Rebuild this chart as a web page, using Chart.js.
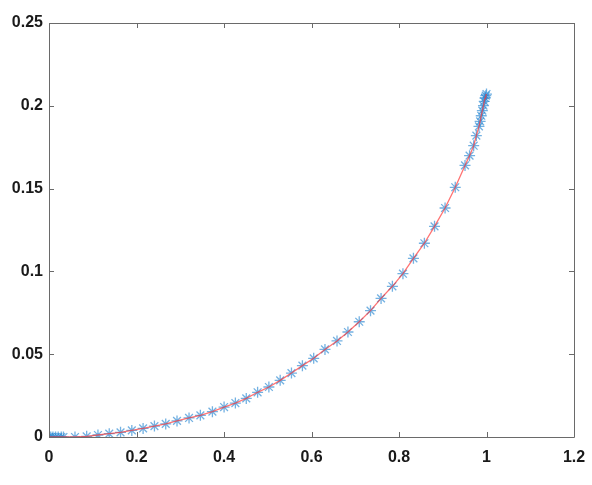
<!DOCTYPE html>
<html>
<head>
<meta charset="utf-8">
<script src="https://cdn.jsdelivr.net/npm/chart.js@4/dist/chart.umd.min.js"></script>
<style>
html,body{margin:0;padding:0;background:#fff;}
#wrap{width:592px;height:485px;position:relative;}
</style>
</head>
<body>
<div id="wrap"><canvas id="c" width="592" height="485"></canvas></div>
<script>
const xValues = [0, 0.004, 0.009, 0.015, 0.021, 0.028, 0.033,
  0.0594, 0.0861, 0.1119, 0.1377, 0.1635, 0.1893, 0.2151, 0.2410, 0.2668, 0.2926,
  0.3201, 0.3460, 0.3735, 0.4002, 0.4260, 0.4509, 0.4768, 0.5026, 0.5284, 0.5542,
  0.5792, 0.6050, 0.6308, 0.6583, 0.6833, 0.7091, 0.7349, 0.7590, 0.7849, 0.8090,
  0.8330, 0.8580, 0.8812, 0.9053, 0.9286, 0.9509, 0.9613, 0.9707, 0.9768, 0.9828,
  0.9854, 0.9880, 0.9905, 0.9931, 0.9948, 0.9966, 0.9983, 1.0000];
const yValues = [0, 0, 0, 0, 0, 0, 0,
  0.0000, 0.0004, 0.0012, 0.0020, 0.0028, 0.0040, 0.0052, 0.0066, 0.0079, 0.0097,
  0.0115, 0.0131, 0.0153, 0.0181, 0.0205, 0.0233, 0.0270, 0.0302, 0.0342, 0.0386,
  0.0431, 0.0475, 0.0529, 0.0580, 0.0634, 0.0696, 0.0763, 0.0837, 0.0910, 0.0986,
  0.1079, 0.1170, 0.1272, 0.1383, 0.1508, 0.1640, 0.1699, 0.1759, 0.1820, 0.1876,
  0.1906, 0.1940, 0.1971, 0.2001, 0.2027, 0.2047, 0.2061, 0.2071];
const xTicks = [0, 0.2, 0.4, 0.6, 0.8, 1, 1.2];
const yTicks = [0, 0.05, 0.1, 0.15, 0.2, 0.25];

const pts = xValues.map((x, i) => ({x: x, y: yValues[i]}));

const boxPlugin = {
  id: 'box',
  afterDraw(chart) {
    const ctx = chart.ctx, a = chart.chartArea;
    const xs = chart.scales.x, ys = chart.scales.y;
    ctx.save();
    ctx.strokeStyle = '#6a6a6a';
    ctx.lineWidth = 1;
    ctx.beginPath();
    ctx.rect(Math.round(a.left) + 0.5, Math.round(a.top) + 0.5, Math.round(a.right - a.left), Math.round(a.bottom - a.top));
    ctx.stroke();
    const L = 5;
    ctx.beginPath();
    xTicks.forEach(v => {
      const px = Math.round(xs.getPixelForValue(v)) + 0.5;
      ctx.moveTo(px, a.bottom); ctx.lineTo(px, a.bottom - L);
      ctx.moveTo(px, a.top); ctx.lineTo(px, a.top + L);
    });
    yTicks.forEach(v => {
      const py = Math.round(ys.getPixelForValue(v)) + 0.5;
      ctx.moveTo(a.left, py); ctx.lineTo(a.left + L, py);
      ctx.moveTo(a.right, py); ctx.lineTo(a.right - L, py);
    });
    ctx.stroke();
    ctx.restore();
  }
};

new Chart(document.getElementById('c'), {
  type: 'scatter',
  data: {
    datasets: [
      {
        data: pts,
        showLine: false,
        pointStyle: 'star',
        pointRadius: 5.5,
        pointHoverRadius: 5.5,
        borderColor: 'rgba(40,135,210,0.65)',
        backgroundColor: 'rgba(40,135,210,0.65)',
        pointBorderWidth: 1.3,
        order: 2
      },
      {
        data: pts,
        showLine: true,
        pointRadius: 0,
        borderColor: 'rgba(255,40,40,0.65)',
        borderWidth: 1.3,
        fill: false,
        order: 1
      }
    ]
  },
  options: {
    responsive: false,
    animation: false,
    events: [],
    layout: {padding: {left: 0, right: 18, top: 23, bottom: 0}},
    plugins: {legend: {display: false}, tooltip: {enabled: false}},
    scales: {
      x: {
        type: 'linear',
        min: 0, max: 1.2,
        afterBuildTicks(s) { s.ticks = xTicks.map(v => ({value: v})); },
        afterFit(s) { s.height = 48; s.paddingLeft = 0; s.paddingRight = 0; },
        grid: {display: false, drawTicks: false},
        border: {display: false},
        ticks: {
          color: '#1a1a1a',
          padding: 11,
          maxRotation: 0,
          font: {family: 'Liberation Sans, Arial, sans-serif', size: 16, weight: 'bold'},
          callback: v => String(+v.toFixed(2))
        }
      },
      y: {
        type: 'linear',
        min: 0, max: 0.25,
        afterBuildTicks(s) { s.ticks = yTicks.map(v => ({value: v})); },
        afterFit(s) { s.width = 49; s.paddingTop = 0; s.paddingBottom = 0; },
        grid: {display: false, drawTicks: false},
        border: {display: false},
        ticks: {
          color: '#1a1a1a',
          padding: 6,
          font: {family: 'Liberation Sans, Arial, sans-serif', size: 16, weight: 'bold'},
          callback: v => String(+v.toFixed(2))
        }
      }
    }
  },
  plugins: [boxPlugin]
});
</script>
</body>
</html>
